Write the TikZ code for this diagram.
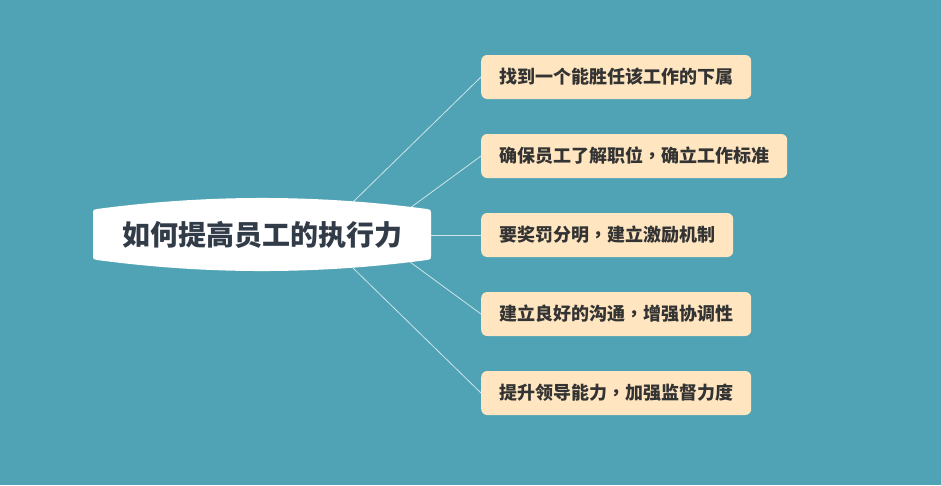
\documentclass[tikz,border=0pt]{standalone}
\usepackage{fontspec}
\setmainfont{Noto Sans CJK SC}
\newfontfamily\tcpunct{Noto Sans CJK TC}
\newcommand{\midcomma}{{\tcpunct ，}}
\usetikzlibrary{positioning}
\definecolor{bgteal}{RGB}{80,163,180}
\definecolor{leafcream}{RGB}{255,230,192}
\definecolor{rootink}{RGB}{50,60,72}
\definecolor{leafink}{RGB}{51,51,51}
\definecolor{linkline}{RGB}{205,228,234}

\begin{document}
\begin{tikzpicture}[x=1pt, y=-1pt,
    leaf/.style={fill=leafcream, rounded corners=6pt, minimum height=44pt, inner xsep=18pt, inner ysep=0pt, anchor=west, text=leafink, font=\fontsize{18}{18}\selectfont\bfseries},
    link/.style={draw=linkline, line width=0.8pt}]
    \useasboundingbox[fill=bgteal] (0,0) rectangle (941,485);

    \foreach \i/\y/\txt in {1/77/找到一个能胜任该工作的下属, 2/156/确保员工了解职位\midcomma 确立工作标准, 3/235/要奖罚分明\midcomma 建立激励机制, 4/314/建立良好的沟通\midcomma 增强协调性, 5/393/提升领导能力\midcomma 加强监督力度}
        \node[leaf] (leaf\i) at (481,\y) {\txt};

    \coordinate (r1) at (353,202);
    \coordinate (r2) at (410,208);
    \coordinate (r3) at (431,235);
    \coordinate (r4) at (410,262);
    \coordinate (r5) at (353,268);

    \foreach \i in {1,2,3,4,5}
        \draw[link] (r\i) -- (leaf\i.west);

    % Drawing the central topic
    \fill[white] (93,213) -- (93,256) .. controls (93,259) .. (97,260)
        .. controls (207,274.7) and (317,274.7) .. (427,260)
        .. controls (431,259) .. (431,256) -- (431,213)
        .. controls (431,210) .. (427,209)
        .. controls (317,194.3) and (207,194.3) .. (97,209)
        .. controls (93,210) .. (93,213) -- cycle;
    \node[text=rootink, font=\fontsize{28}{28}\selectfont\bfseries] (root) at (262,235) {如何提高员工的执行力};
\end{tikzpicture}
\end{document}
